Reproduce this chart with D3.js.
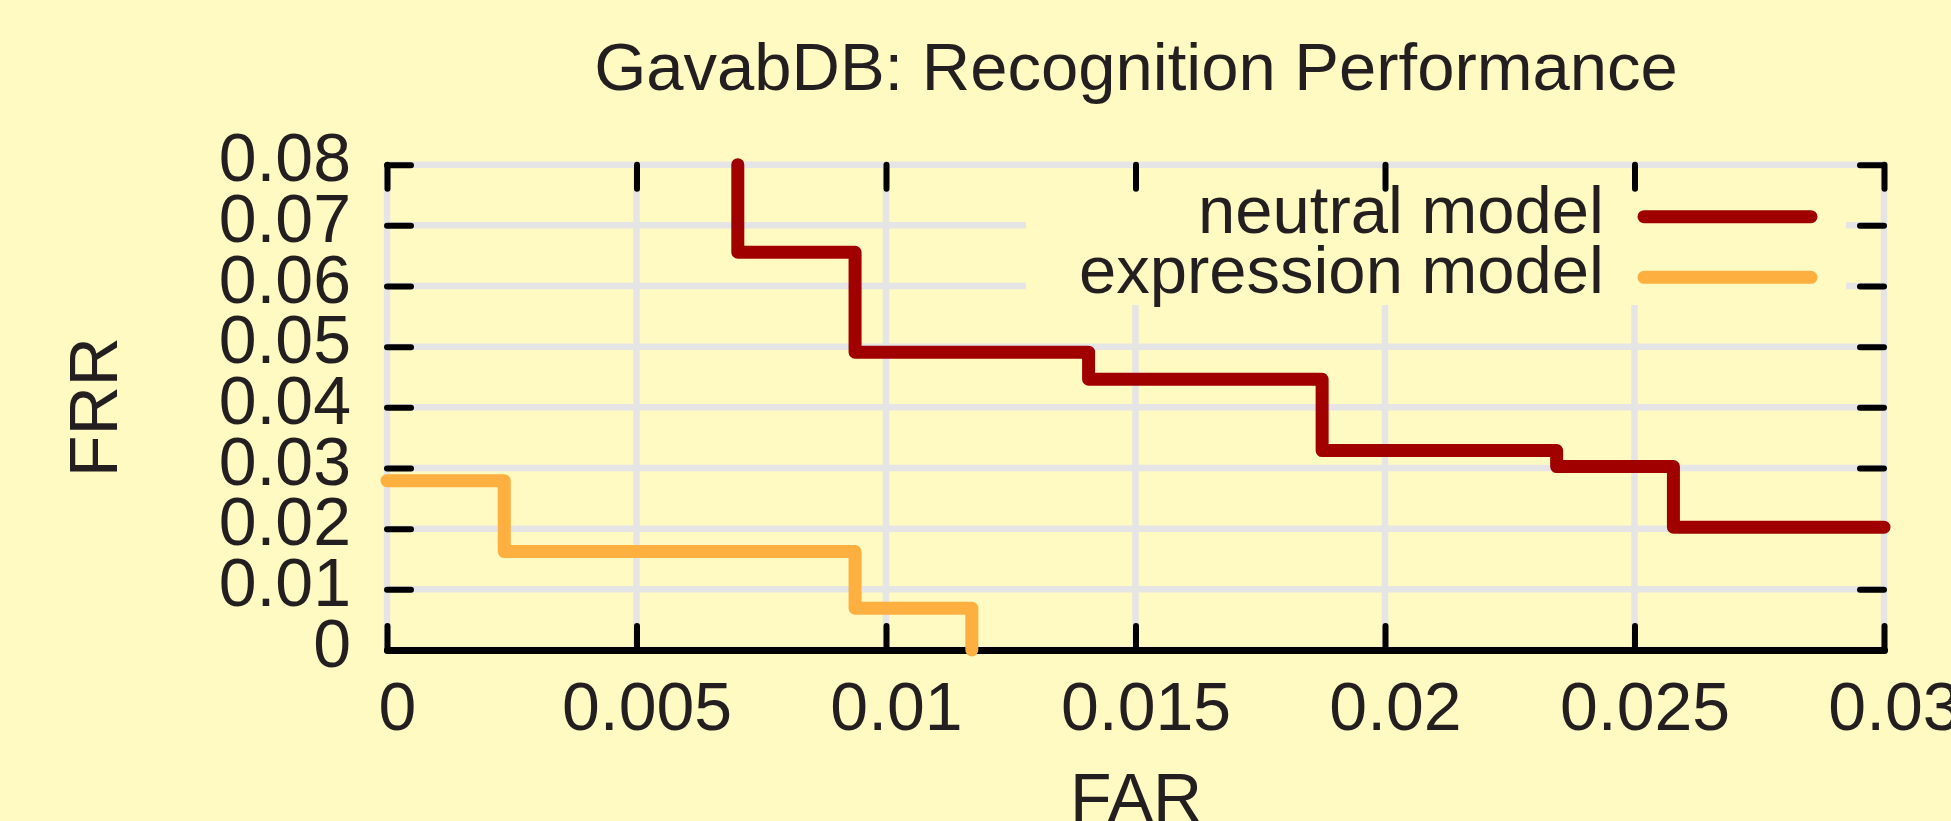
<!DOCTYPE html>
<html>
<head>
<meta charset="utf-8">
<title>GavabDB: Recognition Performance</title>
<script src="https://cdn.jsdelivr.net/npm/d3@7"></script>
<style>
  html, body { margin: 0; padding: 0; background: #fff9c2; }
  svg text { font-family: "Liberation Sans", Arial, Helvetica, sans-serif; fill: #231f20; }
</style>
</head>
<body>
<div id="chart"></div>
<script>
// data (FAR on x, FRR on y), step curves
var neutralFAR = [0.00703, 0.00703, 0.00938, 0.01406, 0.01874, 0.02344, 0.02578, 0.03];
var neutralFRR = [0.08, 0.06557, 0.04909, 0.04463, 0.03287, 0.03023, 0.02024, 0.02024];
var exprFAR = [0, 0.00235, 0.00938, 0.01172];
var exprFRR = [0.02792, 0.01622, 0.00689, 0];

var seriesNames = ["neutral model", "expression model"];
var seriesColors = ["#a10000", "#fdb03f"];

var xTicks = [0, 0.005, 0.01, 0.015, 0.02, 0.025, 0.03];
var xTickLabels = ["0", "0.005", "0.01", "0.015", "0.02", "0.025", "0.03"];
var yTicks = [0, 0.01, 0.02, 0.03, 0.04, 0.05, 0.06, 0.07, 0.08];
var yTickLabels = ["0", "0.01", "0.02", "0.03", "0.04", "0.05", "0.06", "0.07", "0.08"];

(function () {
var W = 1951, H = 821;
var pLeft = 387, pRight = 1884, pTop = 164.7, pBottom = 650;
var fs = 68;

var svg = d3.select("#chart").append("svg")
    .attr("width", W).attr("height", H);

svg.append("rect").attr("width", W).attr("height", H).attr("fill", "#fff9c2");

var x = d3.scaleLinear().domain([0, 0.03]).range([pLeft, pRight]);
var y = d3.scaleLinear().domain([0, 0.08]).range([pBottom, pTop]);

// grid
var grid = svg.append("g").attr("stroke", "#e5e5e5").attr("stroke-width", 6.5);
grid.selectAll("line.gx").data(xTicks).enter().append("line")
    .attr("x1", d => x(d)).attr("x2", d => x(d))
    .attr("y1", pTop).attr("y2", pBottom);
grid.selectAll("line.gy").data(yTicks).enter().append("line")
    .attr("x1", pLeft).attr("x2", pRight)
    .attr("y1", d => y(d)).attr("y2", d => y(d));

// legend box (opaque, no border)
svg.append("rect")
    .attr("x", 1026).attr("y", 170)
    .attr("width", 820).attr("height", 135)
    .attr("fill", "#fff9c2");

function styleAxis(g) {
  g.selectAll(".tick line").attr("stroke", "#000").attr("stroke-width", 6).attr("stroke-linecap", "round");
  g.selectAll("text").style("font-size", fs + "px").attr("fill", "#231f20");
}

// bottom axis
var xAxis = svg.append("g")
    .attr("transform", "translate(0," + pBottom + ")")
    .call(d3.axisBottom(x).tickValues(xTicks).tickSize(-24).tickSizeOuter(0)
      .tickFormat((d, i) => xTickLabels[i]));
xAxis.select(".domain").attr("stroke", "#000").attr("stroke-width", 7).attr("stroke-linecap", "round");
styleAxis(xAxis);
xAxis.selectAll("text").attr("y", 80).attr("dy", null).attr("x", 10);

// left axis
var yAxis = svg.append("g")
    .attr("transform", "translate(" + pLeft + ",0)")
    .call(d3.axisLeft(y).tickValues(yTicks).tickSize(-24)
      .tickFormat((d, i) => yTickLabels[i]));
yAxis.select(".domain").remove();
styleAxis(yAxis);
yAxis.selectAll("text").attr("x", -36).attr("dy", null).attr("y", 16);

// mirror ticks top and right
var topAxis = svg.append("g")
    .attr("transform", "translate(0," + pTop + ")")
    .call(d3.axisTop(x).tickValues(xTicks).tickSize(-24).tickFormat(""));
topAxis.select(".domain").remove();
styleAxis(topAxis);

var rightAxis = svg.append("g")
    .attr("transform", "translate(" + pRight + ",0)")
    .call(d3.axisRight(y).tickValues(yTicks.slice(1)).tickSize(-24).tickFormat(""));
rightAxis.select(".domain").remove();
styleAxis(rightAxis);

// curves
var line = d3.line()
    .x(d => x(d[0])).y(d => y(d[1]))
    .curve(d3.curveStepAfter);

var series = [
  d3.zip(neutralFAR, neutralFRR),
  d3.zip(exprFAR, exprFRR)
];

svg.selectAll("path.curve").data(series).enter().append("path")
    .attr("class", "curve")
    .attr("d", line)
    .attr("fill", "none")
    .attr("stroke", (d, i) => seriesColors[i])
    .attr("stroke-width", 13)
    .attr("stroke-linejoin", "round")
    .attr("stroke-linecap", "round");

// legend
var legY = [216.7, 277.3];
var leg = svg.selectAll("g.leg").data(seriesNames).enter().append("g")
    .attr("transform", (d, i) => "translate(0," + legY[i] + ")");
leg.append("text")
    .attr("x", 1604).attr("y", 16)
    .attr("text-anchor", "end")
    .style("font-size", "67px")
    .text(d => d);
leg.append("line")
    .attr("x1", 1644).attr("x2", 1811)
    .attr("stroke", (d, i) => seriesColors[i])
    .attr("stroke-width", 13)
    .attr("stroke-linecap", "round");

// titles
svg.append("text")
    .attr("x", 1136).attr("y", 90)
    .attr("text-anchor", "middle")
    .style("font-size", "67px")
    .text("GavabDB: Recognition Performance");

svg.append("text")
    .attr("x", 1136).attr("y", 821)
    .attr("text-anchor", "middle")
    .style("font-size", fs + "px")
    .text("FAR");

svg.append("text")
    .attr("transform", "translate(117,407) rotate(-90)")
    .attr("text-anchor", "middle")
    .style("font-size", fs + "px")
    .text("FRR");
})();
</script>
</body>
</html>
